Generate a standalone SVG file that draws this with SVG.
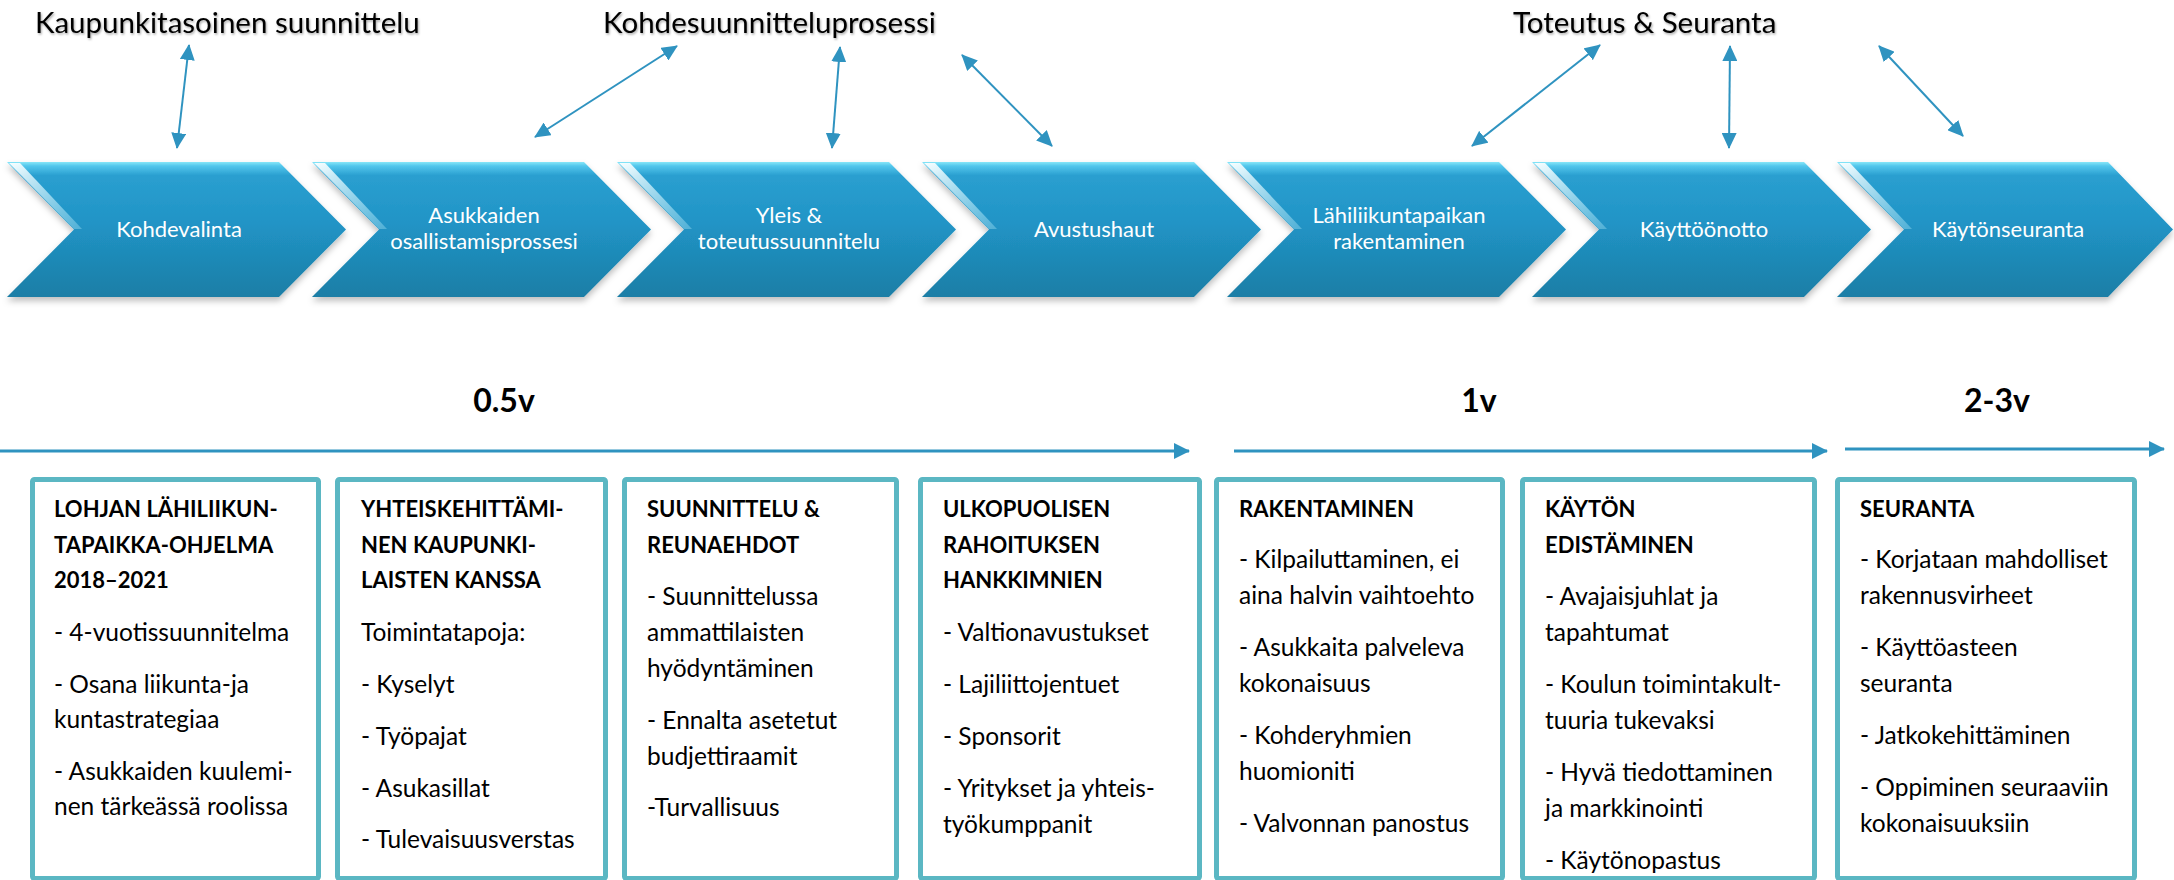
<svg xmlns="http://www.w3.org/2000/svg" width="2174" height="880" viewBox="0 0 2174 880">
<defs>
<style>
.title{font-family:Lato,"Open Sans",sans-serif;font-size:29.5px;fill:#000;}
.chev{fill:url(#chevFill);filter:url(#chevShadow);}
.hl{fill:url(#hlFill);}
.ctext{font-family:Lato,"Open Sans",sans-serif;font-size:22px;fill:#fff;text-anchor:middle;}
.dur{font-family:Lato,"Open Sans",sans-serif;font-size:32px;font-weight:bold;fill:#000;text-anchor:middle;}
.box{fill:#fff;stroke:#5BB7C3;stroke-width:5;}
.hd{font-family:Lato,"Open Sans",sans-serif;font-size:22px;font-weight:bold;fill:#000;}
.bt{font-family:Lato,"Open Sans",sans-serif;font-size:24.5px;fill:#000;}
.conn{stroke:#2F93C0;stroke-width:2;fill:none;marker-start:url(#ah);marker-end:url(#ah);}
.tl{stroke:#2F93C0;stroke-width:3;fill:none;marker-end:url(#ah2);}
</style>
<linearGradient id="chevFill" x1="0" y1="0" x2="0" y2="1">
<stop offset="0" stop-color="#86E6F8"/>
<stop offset="0.03" stop-color="#52C6EC"/>
<stop offset="0.10" stop-color="#2A9FD0"/>
<stop offset="0.45" stop-color="#2194C6"/>
<stop offset="1" stop-color="#1B7EA6"/>
</linearGradient>
<linearGradient id="hlFill" x1="0" y1="0" x2="1" y2="1">
<stop offset="0" stop-color="#ffffff" stop-opacity="0.95"/>
<stop offset="1" stop-color="#bff3ff" stop-opacity="0.3"/>
</linearGradient>
<filter id="chevShadow" x="-5%" y="-10%" width="110%" height="130%">
<feDropShadow dx="0" dy="4" stdDeviation="3" flood-color="#000" flood-opacity="0.25"/>
</filter>
<filter id="txtShadow" x="-5%" y="-20%" width="110%" height="150%">
<feDropShadow dx="1" dy="1.5" stdDeviation="1" flood-color="#000" flood-opacity="0.35"/>
</filter>
<marker id="ah" markerUnits="userSpaceOnUse" markerWidth="16" markerHeight="15" refX="15" refY="7.5" orient="auto-start-reverse">
<path d="M0,0 L16,7.5 L0,15 z" fill="#2F93C0"/>
</marker>
<marker id="ah2" markerUnits="userSpaceOnUse" markerWidth="16" markerHeight="16" refX="15" refY="8" orient="auto">
<path d="M0,0 L16,8 L0,16 z" fill="#2F93C0"/>
</marker>
</defs>
<rect width="2174" height="880" fill="#fff"/>

<g id="titles" filter="url(#txtShadow)">
<text class="title" x="35" y="33">Kaupunkitasoinen suunnittelu</text>
<text class="title" x="603" y="33">Kohdesuunnitteluprosessi</text>
<text class="title" x="1513" y="33">Toteutus &amp; Seuranta</text>
</g>

<g id="chevron-1">
<polygon class="chev" points="7,162 279,162 346,229.5 279,297 7,297 74,229.5"/>
<polygon class="hl" points="9,163 20,163 82,229 74,229"/>
<text class="ctext" x="179" y="237">Kohdevalinta</text>
</g>
<g id="chevron-2">
<polygon class="chev" points="312,162 584,162 651,229.5 584,297 312,297 379,229.5"/>
<polygon class="hl" points="314,163 325,163 387,229 379,229"/>
<text class="ctext" x="484" y="223">Asukkaiden</text>
<text class="ctext" x="484" y="249">osallistamisprossesi</text>
</g>
<g id="chevron-3">
<polygon class="chev" points="617,162 889,162 956,229.5 889,297 617,297 684,229.5"/>
<polygon class="hl" points="619,163 630,163 692,229 684,229"/>
<text class="ctext" x="789" y="223">Yleis &amp;</text>
<text class="ctext" x="789" y="249">toteutussuunnitelu</text>
</g>
<g id="chevron-4">
<polygon class="chev" points="922,162 1194,162 1261,229.5 1194,297 922,297 989,229.5"/>
<polygon class="hl" points="924,163 935,163 997,229 989,229"/>
<text class="ctext" x="1094" y="237">Avustushaut</text>
</g>
<g id="chevron-5">
<polygon class="chev" points="1227,162 1499,162 1566,229.5 1499,297 1227,297 1294,229.5"/>
<polygon class="hl" points="1229,163 1240,163 1302,229 1294,229"/>
<text class="ctext" x="1399" y="223">Lähiliikuntapaikan</text>
<text class="ctext" x="1399" y="249">rakentaminen</text>
</g>
<g id="chevron-6">
<polygon class="chev" points="1532,162 1804,162 1871,229.5 1804,297 1532,297 1599,229.5"/>
<polygon class="hl" points="1534,163 1545,163 1607,229 1599,229"/>
<text class="ctext" x="1704" y="237">Käyttöönotto</text>
</g>
<g id="chevron-7">
<polygon class="chev" points="1837,162 2108,162 2173,229.5 2108,297 1837,297 1904,229.5"/>
<polygon class="hl" points="1839,163 1850,163 1912,229 1904,229"/>
<text class="ctext" x="2008" y="237">Käytönseuranta</text>
</g>

<g id="durations">
<text class="dur" x="504" y="412">0.5v</text>
<text class="dur" x="1479" y="412">1v</text>
<text class="dur" x="1997" y="412">2-3v</text>
</g>

<g id="connectors">
<line class="conn" x1="189" y1="45" x2="177" y2="148"/>
<line class="conn" x1="677" y1="46" x2="535" y2="137"/>
<line class="conn" x1="840" y1="47" x2="832" y2="148"/>
<line class="conn" x1="962" y1="55" x2="1052" y2="146"/>
<line class="conn" x1="1600" y1="45" x2="1472" y2="146"/>
<line class="conn" x1="1730" y1="46" x2="1729" y2="148"/>
<line class="conn" x1="1879" y1="46" x2="1963" y2="136"/>
<line class="tl" x1="0" y1="451" x2="1189" y2="451"/>
<line class="tl" x1="1234" y1="451" x2="1827" y2="451"/>
<line class="tl" x1="1845" y1="449" x2="2164" y2="449"/>
</g>

<g id="box-1">
<rect class="box" x="32.5" y="479.5" width="286" height="399" rx="2"/>
<text class="hd" x="54" y="517">LOHJAN LÄHILIIKUN-</text>
<text class="hd" x="54" y="553">TAPAIKKA-OHJELMA</text>
<text class="hd" x="54" y="588">2018–2021</text>
<text class="bt" x="54" y="641">- 4-vuotissuunnitelma</text>
<text class="bt" x="54" y="693">- Osana liikunta-ja</text>
<text class="bt" x="54" y="728">kuntastrategiaa</text>
<text class="bt" x="54" y="780">- Asukkaiden kuulemi-</text>
<text class="bt" x="54" y="815">nen tärkeässä roolissa</text>
</g>
<g id="box-2">
<rect class="box" x="337.5" y="479.5" width="268" height="399" rx="2"/>
<text class="hd" x="361" y="517">YHTEISKEHITTÄMI-</text>
<text class="hd" x="361" y="553">NEN KAUPUNKI-</text>
<text class="hd" x="361" y="588">LAISTEN KANSSA</text>
<text class="bt" x="361" y="641">Toimintatapoja:</text>
<text class="bt" x="361" y="693">- Kyselyt</text>
<text class="bt" x="361" y="745">- Työpajat</text>
<text class="bt" x="361" y="797">- Asukasillat</text>
<text class="bt" x="361" y="848">- Tulevaisuusverstas</text>
</g>
<g id="box-3">
<rect class="box" x="624.5" y="479.5" width="272" height="399" rx="2"/>
<text class="hd" x="647" y="517">SUUNNITTELU &amp;</text>
<text class="hd" x="647" y="553">REUNAEHDOT</text>
<text class="bt" x="647" y="605">- Suunnittelussa</text>
<text class="bt" x="647" y="641">ammattilaisten</text>
<text class="bt" x="647" y="677">hyödyntäminen</text>
<text class="bt" x="647" y="729">- Ennalta asetetut</text>
<text class="bt" x="647" y="765">budjettiraamit</text>
<text class="bt" x="647" y="816">-Turvallisuus</text>
</g>
<g id="box-4">
<rect class="box" x="920.5" y="479.5" width="279" height="399" rx="2"/>
<text class="hd" x="943" y="517">ULKOPUOLISEN</text>
<text class="hd" x="943" y="553">RAHOITUKSEN</text>
<text class="hd" x="943" y="588">HANKKIMNIEN</text>
<text class="bt" x="943" y="641">- Valtionavustukset</text>
<text class="bt" x="943" y="693">- Lajiliittojentuet</text>
<text class="bt" x="943" y="745">- Sponsorit</text>
<text class="bt" x="943" y="797">- Yritykset ja yhteis-</text>
<text class="bt" x="943" y="833">työkumppanit</text>
</g>
<g id="box-5">
<rect class="box" x="1216.5" y="479.5" width="286" height="399" rx="2"/>
<text class="hd" x="1239" y="517">RAKENTAMINEN</text>
<text class="bt" x="1239" y="568">- Kilpailuttaminen, ei</text>
<text class="bt" x="1239" y="604">aina halvin vaihtoehto</text>
<text class="bt" x="1239" y="656">- Asukkaita palveleva</text>
<text class="bt" x="1239" y="692">kokonaisuus</text>
<text class="bt" x="1239" y="744">- Kohderyhmien</text>
<text class="bt" x="1239" y="780">huomioniti</text>
<text class="bt" x="1239" y="832">- Valvonnan panostus</text>
</g>
<g id="box-6">
<rect class="box" x="1522.5" y="479.5" width="292" height="399" rx="2"/>
<text class="hd" x="1545" y="517">KÄYTÖN</text>
<text class="hd" x="1545" y="553">EDISTÄMINEN</text>
<text class="bt" x="1545" y="605">- Avajaisjuhlat ja</text>
<text class="bt" x="1545" y="641">tapahtumat</text>
<text class="bt" x="1545" y="693">- Koulun toimintakult-</text>
<text class="bt" x="1545" y="729">tuuria tukevaksi</text>
<text class="bt" x="1545" y="781">- Hyvä tiedottaminen</text>
<text class="bt" x="1545" y="817">ja markkinointi</text>
<text class="bt" x="1545" y="869">- Käytönopastus</text>
</g>
<g id="box-7">
<rect class="box" x="1837.5" y="479.5" width="297" height="399" rx="2"/>
<text class="hd" x="1860" y="517">SEURANTA</text>
<text class="bt" x="1860" y="568">- Korjataan mahdolliset</text>
<text class="bt" x="1860" y="604">rakennusvirheet</text>
<text class="bt" x="1860" y="656">- Käyttöasteen</text>
<text class="bt" x="1860" y="692">seuranta</text>
<text class="bt" x="1860" y="744">- Jatkokehittäminen</text>
<text class="bt" x="1860" y="796">- Oppiminen seuraaviin</text>
<text class="bt" x="1860" y="832">kokonaisuuksiin</text>
</g>
</svg>
